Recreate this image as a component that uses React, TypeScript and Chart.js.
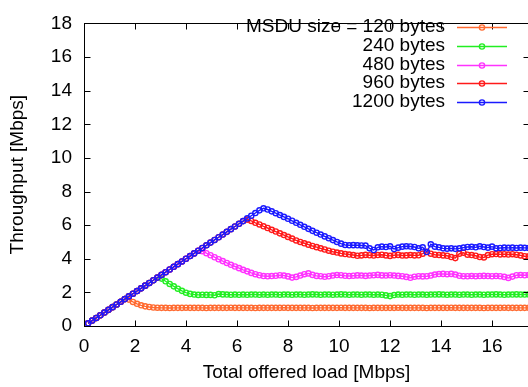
import { useEffect, useRef } from "react";
import { Chart, registerables } from "chart.js";
Chart.register(...registerables);

// Total offered load [Mbps]
const LOAD = [
  0.16, 0.32, 0.48, 0.64, 0.80, 0.96, 1.12, 1.28, 1.44, 1.60,
  1.76, 1.92, 2.08, 2.24, 2.40, 2.56, 2.72, 2.88, 3.04, 3.20,
  3.36, 3.52, 3.68, 3.84, 4.00, 4.16, 4.32, 4.48, 4.64, 4.80,
  4.96, 5.12, 5.28, 5.44, 5.60, 5.76, 5.92, 6.08, 6.24, 6.40,
  6.56, 6.72, 6.88, 7.04, 7.20, 7.36, 7.52, 7.68, 7.84, 8.00,
  8.16, 8.32, 8.48, 8.64, 8.80, 8.96, 9.12, 9.28, 9.44, 9.60,
  9.76, 9.92, 10.08, 10.24, 10.40, 10.56, 10.72, 10.88, 11.04, 11.20,
  11.36, 11.52, 11.68, 11.84, 12.00, 12.16, 12.32, 12.48, 12.64, 12.80,
  12.96, 13.12, 13.28, 13.44, 13.60, 13.76, 13.92, 14.08, 14.24, 14.40,
  14.56, 14.72, 14.88, 15.04, 15.20, 15.36, 15.52, 15.68, 15.84, 16.00,
  16.16, 16.32, 16.48, 16.64, 16.80, 16.96, 17.12, 17.28, 17.44,
];

const S120 = [
  0.16, 0.32, 0.48, 0.64, 0.80, 0.96, 1.12, 1.28, 1.44, 1.60,
  1.57, 1.43, 1.32, 1.23, 1.17, 1.13, 1.10, 1.09,
  1.08, 1.08, 1.07, 1.08, 1.08, 1.08, 1.09, 1.08, 1.08, 1.08,
  1.08, 1.07, 1.08, 1.08, 1.08, 1.08, 1.08, 1.09, 1.08, 1.08,
  1.08, 1.08, 1.08, 1.07, 1.08, 1.08, 1.08, 1.08, 1.08, 1.08,
  1.09, 1.08, 1.08, 1.08, 1.08, 1.08, 1.08, 1.07, 1.08, 1.08,
  1.08, 1.08, 1.08, 1.08, 1.09, 1.08, 1.08, 1.08, 1.08, 1.08,
  1.08, 1.07, 1.08, 1.08, 1.08, 1.08, 1.08, 1.08, 1.09, 1.08,
  1.08, 1.08, 1.08, 1.08, 1.08, 1.07, 1.08, 1.08, 1.08, 1.08,
  1.08, 1.09, 1.08, 1.08, 1.08, 1.08, 1.08, 1.08, 1.08, 1.07,
  1.08, 1.08, 1.08, 1.08, 1.09, 1.08, 1.08, 1.08, 1.08, 1.08, 1.08,
];

const S240 = [
  0.16, 0.32, 0.48, 0.64, 0.80, 0.96, 1.12, 1.28, 1.44, 1.60,
  1.76, 1.92, 2.08, 2.24, 2.40, 2.56, 2.72, 2.88,
  2.82, 2.66, 2.50, 2.36, 2.22, 2.09, 1.98, 1.91, 1.87, 1.85,
  1.86, 1.85, 1.85, 1.83, 1.90, 1.88, 1.87, 1.86, 1.87, 1.86,
  1.87, 1.86, 1.87, 1.87, 1.86, 1.87, 1.86, 1.87, 1.87, 1.86,
  1.87, 1.87, 1.86, 1.87, 1.87, 1.86, 1.87, 1.88, 1.87, 1.86,
  1.87, 1.87, 1.86, 1.87, 1.88, 1.87, 1.86, 1.87, 1.87, 1.86,
  1.87, 1.87, 1.86, 1.87, 1.86, 1.82, 1.78, 1.84, 1.87, 1.86,
  1.87, 1.87, 1.86, 1.87, 1.87, 1.86, 1.87, 1.87, 1.88, 1.87,
  1.86, 1.87, 1.87, 1.86, 1.87, 1.87, 1.86, 1.87, 1.87, 1.86,
  1.87, 1.87, 1.88, 1.87, 1.86, 1.87, 1.87, 1.88, 1.87, 1.87, 1.88,
];

const S480 = [
  0.16, 0.32, 0.48, 0.64, 0.80, 0.96, 1.12, 1.28, 1.44, 1.60,
  1.76, 1.92, 2.08, 2.24, 2.40, 2.56, 2.72, 2.88, 3.04, 3.20,
  3.36, 3.52, 3.68, 3.84, 4.00, 4.16, 4.32, 4.48,
  4.45, 4.33, 4.21, 4.09, 3.97, 3.86, 3.75, 3.64, 3.54, 3.44,
  3.34, 3.25, 3.16, 3.08, 3.02, 2.97, 2.96,
  2.97, 2.99, 3.02, 3.00, 2.95, 2.88, 2.92, 3.00, 3.08, 3.13,
  3.04, 2.98, 2.96, 2.93, 2.96, 3.00, 3.03, 3.02, 2.99, 2.97,
  2.99, 3.01, 3.00, 2.98, 3.00, 3.02, 3.04, 3.01, 3.00, 3.02,
  3.00, 2.98, 2.96, 2.92, 2.87, 2.93, 2.96, 2.95, 2.96, 3.00,
  3.06, 3.09, 3.10, 3.08, 3.10, 3.06, 2.99, 2.96, 2.96, 2.97,
  2.96, 2.97, 2.98, 2.97, 2.96, 2.97, 2.96, 2.92, 2.86, 2.94,
  3.02, 3.03, 3.02, 3.03,
];

const S960 = [
  0.16, 0.32, 0.48, 0.64, 0.80, 0.96, 1.12, 1.28, 1.44, 1.60,
  1.76, 1.92, 2.08, 2.24, 2.40, 2.56, 2.72, 2.88, 3.04, 3.20,
  3.36, 3.52, 3.68, 3.84, 4.00, 4.16, 4.32, 4.48, 4.64, 4.80,
  4.96, 5.12, 5.28, 5.44, 5.60, 5.76, 5.92, 6.08, 6.24,
  6.33, 6.25, 6.14, 6.04, 5.93, 5.83, 5.72, 5.62, 5.51, 5.41,
  5.30, 5.20, 5.09, 5.00, 4.92, 4.84, 4.76, 4.69, 4.62, 4.55,
  4.48, 4.42, 4.37, 4.32, 4.28, 4.25,
  4.22, 4.18, 4.20, 4.23, 4.21, 4.19, 4.22, 4.24, 4.20, 4.17,
  4.21, 4.23, 4.19, 4.20, 4.22, 4.20, 4.21, 4.30, 4.42, 4.30,
  4.24, 4.22, 4.20, 4.18, 4.10, 4.04, 4.30, 4.36, 4.24, 4.22,
  4.18, 4.10, 4.08, 4.22, 4.27, 4.28, 4.26, 4.27, 4.25, 4.27,
  4.24, 4.20, 4.15, 4.14,
];

const S1200 = [
  0.16, 0.32, 0.48, 0.64, 0.80, 0.96, 1.12, 1.28, 1.44, 1.60,
  1.76, 1.92, 2.08, 2.24, 2.40, 2.56, 2.72, 2.88, 3.04, 3.20,
  3.36, 3.52, 3.68, 3.84, 4.00, 4.16, 4.32, 4.48, 4.64, 4.80,
  4.96, 5.12, 5.28, 5.44, 5.60, 5.76, 5.92, 6.08, 6.24, 6.40,
  6.56, 6.72, 6.88,
  7.00, 6.93, 6.82, 6.71, 6.60, 6.49, 6.38, 6.26, 6.14, 6.02,
  5.90, 5.78, 5.66, 5.55, 5.44, 5.33, 5.22, 5.11, 5.00, 4.90,
  4.82, 4.80, 4.81, 4.80, 4.79, 4.78, 4.62, 4.52, 4.68, 4.72,
  4.70, 4.74, 4.58, 4.66, 4.72, 4.74, 4.73, 4.70, 4.62, 4.68,
  4.40, 4.86, 4.72, 4.68, 4.62, 4.60, 4.62, 4.59, 4.62, 4.66,
  4.70, 4.71, 4.68, 4.74, 4.70, 4.66, 4.72, 4.62, 4.64, 4.66,
  4.65, 4.66, 4.64, 4.66, 4.65, 4.64,
];

const SERIES_LABELS = [
  "MSDU size = 120 bytes",
  "240 bytes",
  "480 bytes",
  "960 bytes",
  "1200 bytes",
];

const X_TICKS = [0, 2, 4, 6, 8, 10, 12, 14, 16];
const Y_TICKS = [0, 2, 4, 6, 8, 10, 12, 14, 16, 18];

const FONT = '"Liberation Sans", Arial, sans-serif';
const FONT_SIZE = 19;
const COLORS = ["#ff6a30", "#22ee22", "#ff33ff", "#ff1a1a", "#1a1aff"];

const framePlugin = {
  id: "frame",
  afterDraw(chart: any) {
    const { ctx, chartArea } = chart;
    const { left, right, top, bottom } = chartArea;
    const xs = chart.scales.x;
    const ys = chart.scales.y;
    const L = Math.round(left) + 0.5;
    const R = Math.round(right) + 0.5;
    const T = Math.round(top) + 0.5;
    const B = Math.round(bottom) + 0.5;
    ctx.save();
    ctx.strokeStyle = "#000";
    ctx.lineWidth = 1;
    ctx.strokeRect(L, T, R - L, B - T);
    const tl = 6;
    ctx.beginPath();
    X_TICKS.forEach((v) => {
      const px = Math.round(xs.getPixelForValue(v)) + 0.5;
      ctx.moveTo(px, B);
      ctx.lineTo(px, B - tl);
      ctx.moveTo(px, T);
      ctx.lineTo(px, T + tl);
    });
    Y_TICKS.forEach((v) => {
      const py = Math.round(ys.getPixelForValue(v)) + 0.5;
      ctx.moveTo(L, py);
      ctx.lineTo(L + tl, py);
      ctx.moveTo(R, py);
      ctx.lineTo(R - tl, py);
    });
    ctx.stroke();
    ctx.restore();
  },
};

const legendPlugin = {
  id: "gpLegend",
  afterDraw(chart: any) {
    const { ctx } = chart;
    ctx.save();
    ctx.font = `${FONT_SIZE}px ${FONT}`;
    ctx.textAlign = "right";
    ctx.textBaseline = "middle";
    SERIES_LABELS.forEach((label, k) => {
      const y = 27 + k * 18.75;
      ctx.fillStyle = "#000";
      ctx.fillText(label, 445, y);
      ctx.strokeStyle = COLORS[k];
      ctx.lineWidth = 1.5;
      ctx.beginPath();
      ctx.moveTo(457, Math.round(y) + 0.5);
      ctx.lineTo(507, Math.round(y) + 0.5);
      ctx.stroke();
      ctx.lineWidth = 1.4;
      ctx.beginPath();
      ctx.arc(482, Math.round(y) + 0.5, 2.6, 0, Math.PI * 2);
      ctx.stroke();
    });
    ctx.restore();
  },
};

export default function App() {
  const ref = useRef<HTMLCanvasElement>(null);
  useEffect(() => {
    const series = [S120, S240, S480, S960, S1200];
    const chart = new Chart(ref.current as HTMLCanvasElement, {
      type: "line",
      data: {
        datasets: series.map((s, k) => ({
          label: SERIES_LABELS[k],
          data: s.map((y, i) => ({ x: LOAD[i], y })),
          borderColor: COLORS[k],
          backgroundColor: "rgba(0,0,0,0)",
          borderWidth: 1.4,
          pointRadius: 2.6,
          pointBorderWidth: 1.4,
          pointBackgroundColor: "rgba(0,0,0,0)",
          pointBorderColor: COLORS[k],
          order: 4 - k,
          tension: 0,
        })),
      },
      options: {
        responsive: false,
        animation: false,
        devicePixelRatio: 1,
        layout: { padding: { top: 13, right: 16, left: 0, bottom: 0 } },
        plugins: { legend: { display: false }, tooltip: { enabled: false } },
        scales: {
          x: {
            type: "linear",
            min: 0,
            max: 17.45,
            afterBuildTicks: (s: any) => {
              s.ticks = X_TICKS.map((v) => ({ value: v }));
            },
            afterFit: (s: any) => {
              s.height = 61;
            },
            grid: { display: false, drawTicks: false },
            border: { display: false },
            ticks: {
              color: "#000",
              font: { family: FONT, size: FONT_SIZE },
              padding: 9,
              maxRotation: 0,
              autoSkip: false,
            },
            title: {
              display: true,
              text: "Total offered load [Mbps]",
              color: "#000",
              font: { family: FONT, size: FONT_SIZE },
              padding: { top: 0, bottom: 3 },
            },
          },
          y: {
            type: "linear",
            min: 0,
            max: 18,
            afterBuildTicks: (s: any) => {
              s.ticks = Y_TICKS.map((v) => ({ value: v }));
            },
            afterFit: (s: any) => {
              s.width = 84;
            },
            grid: { display: false, drawTicks: false },
            border: { display: false },
            ticks: {
              color: "#000",
              font: { family: FONT, size: FONT_SIZE },
              padding: 12,
              autoSkip: false,
            },
            title: {
              display: true,
              text: "Throughput [Mbps]",
              color: "#000",
              font: { family: FONT, size: FONT_SIZE },
              padding: { top: 6, bottom: 0 },
            },
          },
        },
      } as any,
      plugins: [framePlugin, legendPlugin],
    });
    return () => chart.destroy();
  }, []);

  return (
    <div
      style={{
        position: "fixed",
        left: 0,
        top: 0,
        width: 528,
        height: 387,
        overflow: "hidden",
        background: "#fff",
      }}
    >
      <canvas ref={ref} width={545} height={387} style={{ display: "block" }} />
    </div>
  );
}
